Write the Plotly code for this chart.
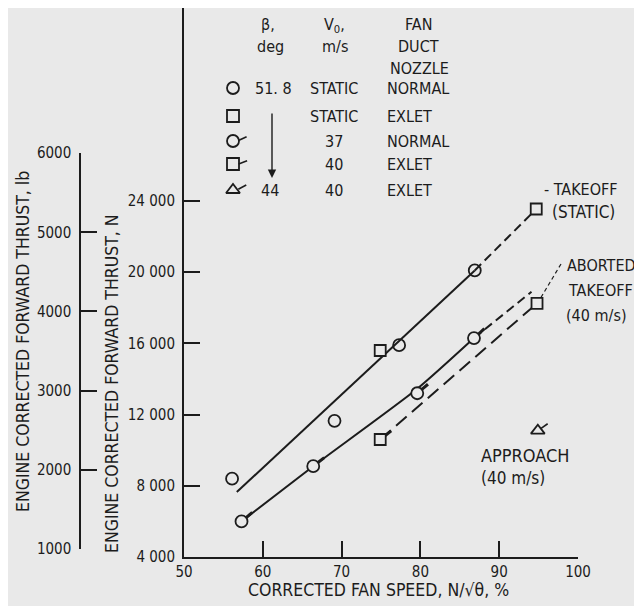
import math
import plotly.graph_objects as go

# ---------------- data ----------------
speed_static_normal = [56.1, 69.1, 77.3, 86.9]
thrust_static_normal = [8400, 11650, 15900, 20100]

speed_static_exlet = [74.9, 94.7]
thrust_static_exlet = [15600, 23550]

speed_37_normal = [57.3, 66.4, 79.6, 86.8]
thrust_37_normal = [6000, 9100, 13200, 16300]
flag_37_normal = [40, 38, 40, 42]

speed_40_exlet = [74.9, 94.8]
thrust_40_exlet = [10600, 18250]
flag_40_exlet = [38, None]

speed_approach = [94.9]
thrust_approach = [11100]
flag_approach = [35]

# faired curves
takeoff_solid_x = [56.7, 86.9]
takeoff_solid_y = [7650, 20100]
takeoff_dash_x = [86.9, 94.7]
takeoff_dash_y = [20100, 23550]

abort37_solid_x = [57.3, 66.4, 79.6, 86.8]
abort37_solid_y = [6000, 9100, 13450, 16300]
abort37_dash_x = [86.8, 94.1]
abort37_dash_y = [16300, 18900]

abort40_dash_x = [74.9, 94.8]
abort40_dash_y = [10600, 18250]

x_ticks = [50, 60, 70, 80, 90, 100]
n_ticks = [4000, 8000, 12000, 16000, 20000, 24000]
n_tick_text = ["4 000", "8 000", "12 000", "16 000", "20 000", "24 000"]
lb_ticks = [1000, 2000, 3000, 4000, 5000, 6000]
LBF_TO_N = 4.44822

# ---------------- layout geometry ----------------
OFF = 8                          # page body margin
W, H = 642 - OFF, 606 - OFF
AX_BOTTOM = 557                  # window px of the x axis
PH = AX_BOTTOM - OFF             # plot-area height in px
B = H - PH
X0PX, X1PX = 184, 578            # window px of x = 50 and x = 100
X_RANGE = [50, 100]
N_PER_PX = 4000 / 71.2
Y_RANGE = [4000, 4000 + PH * N_PER_PX]
X_PER_PX = (X_RANGE[1] - X_RANGE[0]) / (X1PX - X0PX)

INK = "#1c1c1c"
BG = "#e9e9e9"
FONT = "DejaVu Sans Condensed, DejaVu Sans, sans-serif"


def flags(xs, ys, angles, r0=6.0, r1=14.0):
    fx, fy = [], []
    for x, y, a in zip(xs, ys, angles):
        if a is None:
            continue
        t = math.radians(a)
        fx += [x + r0 * math.cos(t) * X_PER_PX, x + r1 * math.cos(t) * X_PER_PX, None]
        fy += [y + r0 * math.sin(t) * N_PER_PX, y + r1 * math.sin(t) * N_PER_PX, None]
    return fx, fy


fig = go.Figure()

fig.add_trace(go.Scatter(x=takeoff_solid_x, y=takeoff_solid_y, mode="lines",
                         line=dict(color=INK, width=2)))
fig.add_trace(go.Scatter(x=takeoff_dash_x, y=takeoff_dash_y, mode="lines",
                         line=dict(color=INK, width=2, dash="9px,5px")))
fig.add_trace(go.Scatter(x=abort37_solid_x, y=abort37_solid_y, mode="lines",
                         line=dict(color=INK, width=2, shape="spline", smoothing=0.6)))
fig.add_trace(go.Scatter(x=abort37_dash_x, y=abort37_dash_y, mode="lines",
                         line=dict(color=INK, width=2, dash="9px,5px")))
fig.add_trace(go.Scatter(x=abort40_dash_x, y=abort40_dash_y, mode="lines",
                         line=dict(color=INK, width=2, dash="14px,7px")))

# flags
for xs, ys, ang, w, r0, r1 in [(speed_37_normal, thrust_37_normal, flag_37_normal, 3, 6, 14),
                               (speed_40_exlet, thrust_40_exlet, flag_40_exlet, 3, 6, 14),
                               (speed_approach, thrust_approach, flag_approach, 1.6, 4, 12)]:
    fx, fy = flags(xs, ys, ang, r0, r1)
    fig.add_trace(go.Scatter(x=fx, y=fy, mode="lines", line=dict(color=INK, width=w)))

mk_line = dict(color=INK, width=1.8)
fig.add_trace(go.Scatter(x=speed_static_normal, y=thrust_static_normal, mode="markers",
                         marker=dict(symbol="circle-open", size=12, line=mk_line, color=INK)))
fig.add_trace(go.Scatter(x=speed_37_normal, y=thrust_37_normal, mode="markers",
                         marker=dict(symbol="circle", size=12, color=BG, line=mk_line)))
fig.add_trace(go.Scatter(x=speed_static_exlet, y=thrust_static_exlet, mode="markers",
                         marker=dict(symbol="square", size=11, color=BG, line=mk_line)))
fig.add_trace(go.Scatter(x=speed_40_exlet, y=thrust_40_exlet, mode="markers",
                         marker=dict(symbol="square", size=11, color=BG, line=mk_line)))
fig.add_trace(go.Scatter(x=speed_approach, y=thrust_approach, mode="markers",
                         marker=dict(symbol="triangle-up-open", size=12, line=mk_line, color=INK)))

# lb axis carrier (no data)
fig.add_trace(go.Scatter(x=[None], y=[None], xaxis="x", yaxis="y2", mode="markers"))

# ---------------- legend table (pixel overlay axes, window coords) ----------------
leg_sym_x = 233
leg_rows_y = [88, 116, 141, 164, 190]
leg_symbols = ["circle-open", "square-open", "circle-open", "square-open", "triangle-up-open"]
leg_flag = [None, None, 25, 20, 28]
for sy, sym, fl in zip(leg_rows_y, leg_symbols, leg_flag):
    fig.add_trace(go.Scatter(x=[leg_sym_x], y=[sy], xaxis="x3", yaxis="y3", mode="markers",
                             marker=dict(symbol=sym, size=12, color=INK, line=mk_line)))
    if fl is not None:
        t = math.radians(fl)
        fig.add_trace(go.Scatter(x=[leg_sym_x + 6 * math.cos(t), leg_sym_x + 15 * math.cos(t)],
                                 y=[sy - 6 * math.sin(t) + 2, sy - 15 * math.sin(t) + 2],
                                 xaxis="x3", yaxis="y3", mode="lines",
                                 line=dict(color=INK, width=1.6)))

ann = []


def txt(x, y, s, size=16, anchor="center", angle=0, yref="y3"):
    ann.append(dict(x=x, y=y, xref="x3", yref=yref, text=s, showarrow=False,
                    xanchor=anchor, yanchor="middle", textangle=angle,
                    font=dict(family=FONT, size=size, color=INK)))


# headers
txt(268, 24, "β,")
txt(270, 46, "deg")
txt(334, 25, "V<sub>0</sub>,")
txt(335, 46, "m/s")
txt(418, 24, "FAN")
txt(418, 46, "DUCT")
txt(419, 68, "NOZZLE")
# rows
col_beta = ["51. 8", "", "", "", "44"]
col_v0 = ["STATIC", "STATIC", "37", "40", "40"]
col_noz = ["NORMAL", "EXLET", "NORMAL", "EXLET", "EXLET"]
for ry, b, v, n in zip(leg_rows_y, col_beta, col_v0, col_noz):
    if b:
        txt(259 if b == "44" else 253, ry, b, anchor="left")
    txt(334, ry, v)
    txt(385, ry, n, anchor="left")

ann.append(dict(x=272, y=178, ax=272, ay=112, xref="x3", yref="y3", axref="x3", ayref="y3",
                text="", showarrow=True, arrowhead=2, arrowsize=1.2, arrowwidth=1.4,
                arrowcolor=INK))

# curve labels
txt(542, 189, "- TAKEOFF", anchor="left", size=16)
txt(550, 212, "(STATIC)", anchor="left", size=17)
txt(565, 265, "ABORTED", anchor="left", size=16)
txt(566, 290, "TAKEOFF", anchor="left", size=16)
txt(564, 315, "(40 m/s)", anchor="left", size=16)
txt(479, 455, "APPROACH", anchor="left", size=18)
txt(479, 478, "(40 m/s)", anchor="left", size=17)

# axis titles
txt(378, (PH - (590 - OFF)) / PH, "CORRECTED FAN SPEED, N/√θ, %", size=17.5, yref="paper")
txt(112, 384, "ENGINE CORRECTED FORWARD THRUST, N", size=17.5, angle=-90)
txt(23, 342, "ENGINE CORRECTED FORWARD THRUST, lb", size=17.5, angle=-90)

shapes = [dict(type="line", xref="x3", yref="y3", x0=561, y0=264, x1=540, y1=299,
               line=dict(color=INK, width=1.2, dash="4px,3px"))]

axis_font = dict(family=FONT, size=15, color=INK)
lb_lo = (lb_ticks[0] * LBF_TO_N - Y_RANGE[0]) / (Y_RANGE[1] - Y_RANGE[0])
lb_hi = (lb_ticks[-1] * LBF_TO_N - Y_RANGE[0]) / (Y_RANGE[1] - Y_RANGE[0])

fig.update_layout(
    width=W, height=H,
    margin=dict(l=0, r=0, t=0, b=B, autoexpand=False),
    paper_bgcolor=BG, plot_bgcolor="rgba(0,0,0,0)",
    showlegend=False,
    annotations=ann, shapes=shapes,
    xaxis=dict(domain=[(X0PX - OFF) / W, (X1PX - OFF) / W], range=X_RANGE, tickvals=x_ticks,
               showline=True, linecolor=INK, linewidth=2, ticks="inside", ticklen=16,
               tickwidth=2, tickcolor=INK, showgrid=False, zeroline=False,
               tickfont=axis_font, anchor="y", automargin=False),
    yaxis=dict(domain=[0, 1], range=Y_RANGE, tickvals=n_ticks, ticktext=n_tick_text,
               showline=True, linecolor=INK, linewidth=2, ticks="inside", ticklen=16,
               tickwidth=2, tickcolor=INK, showgrid=False, zeroline=False,
               tickfont=axis_font, anchor="x", automargin=False, ticklabelstandoff=4),
    yaxis2=dict(domain=[lb_lo, lb_hi], range=[lb_ticks[0], lb_ticks[-1]], tickvals=lb_ticks,
                anchor="free", position=(80 - OFF) / W, side="left",
                showline=True, linecolor=INK, linewidth=1.5, ticks="inside", ticklen=16,
                tickwidth=2, tickcolor=INK, showgrid=False, zeroline=False,
                tickfont=axis_font, automargin=False, ticklabelstandoff=5),
    xaxis3=dict(domain=[0, 1], range=[OFF, OFF + W], visible=False, anchor="y3", fixedrange=True),
    yaxis3=dict(domain=[0, 1], range=[OFF + PH, OFF], visible=False, anchor="x3", fixedrange=True),
)

fig.write_html("out.html")
